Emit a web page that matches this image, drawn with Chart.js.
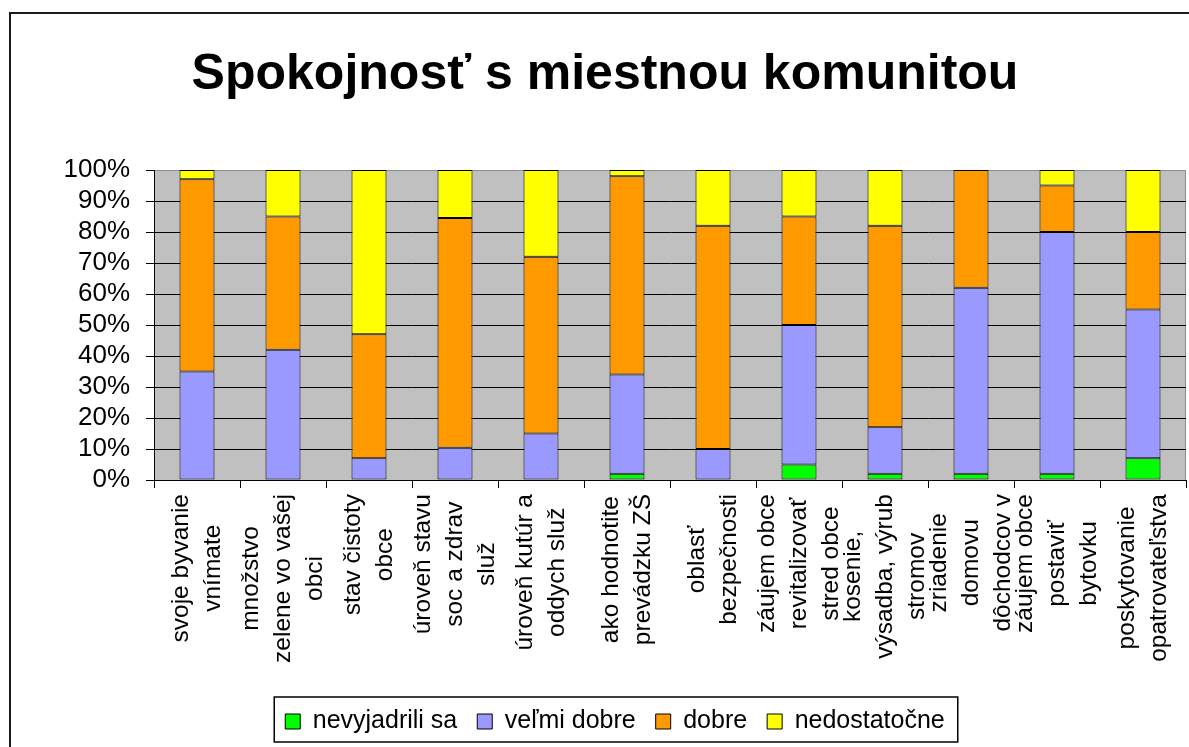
<!DOCTYPE html>
<html>
<head>
<meta charset="utf-8">
<script src="https://cdn.jsdelivr.net/npm/chart.js@4/dist/chart.umd.min.js"></script>
<style>
  html, body { margin: 0; background: #fff; }
  #wrap { width: 1189px; height: 747px; }
</style>
</head>
<body>
<div id="wrap"><canvas id="chart"></canvas></div>
<script>
// category labels, one array of lines per bar
const categories = [
  ["svoje byvanie", "vnímate"],
  ["množstvo", "zelene vo vašej", "obci"],
  ["stav čistoty", "obce"],
  ["úroveň stavu", "soc a zdrav", "služ"],
  ["úroveň kutúr a", "oddych služ"],
  ["ako hodnotite", "prevádzku ZŠ"],
  ["oblasť", "bezpečnosti"],
  ["záujem obce", "revitalizovať", "stred obce"],
  ["kosenie,", "výsadba, výrub", "stromov"],
  ["zriadenie", "domovu", "dôchodcov v"],
  ["záujem obce", "postaviť", "bytovku"],
  ["poskytovanie", "opatrovateľstva"]
];

// shares in percent
const nevyjadrili = [0, 0, 0, 0, 0, 2, 0, 5, 2, 2, 2, 7];
const velmiDobre = [35, 42, 7, 10.4, 15, 32, 10, 45, 15, 60, 78, 48];
const dobre = [62, 43, 40, 74.1, 57, 64, 72, 35, 65, 38, 15, 25];
const nedostatocne = [3, 15, 53, 15.5, 28, 2, 18, 15, 18, 0, 5, 20];

const seriesNames = ["nevyjadrili sa", "veľmi dobre", "dobre", "nedostatočne"];
const seriesColors = ["#00ff00", "#9999ff", "#ff9900", "#ffff00"];
const yTickStep = 10;

const fontFamily = '"Liberation Sans", Arial, sans-serif';
Chart.defaults.font.family = fontFamily;
Chart.defaults.color = "#000";

const frames = {
  id: "frames",
  afterLayout(chart) {
    // the legend sits a little right of centre in the original
    chart.legend.left += 10;
    chart.legend.right += 10;
  },
  beforeDraw(chart) {
    const { ctx, chartArea: a } = chart;
    ctx.save();
    ctx.fillStyle = "#fff";
    ctx.fillRect(0, 0, chart.width, chart.height);
    // outer chart border (right and bottom fall outside the picture)
    ctx.strokeStyle = "#1a1a1a";
    ctx.lineWidth = 2;
    ctx.strokeRect(10, 13, chart.width + 40, chart.height + 40);
    // plot area
    ctx.fillStyle = "#c0c0c0";
    ctx.fillRect(a.left, a.top, a.right - a.left, a.bottom - a.top);
    ctx.strokeStyle = "#8c8c8c";
    ctx.lineWidth = 1;
    ctx.strokeRect(a.left + 0.5, a.top + 0.5, a.right - a.left - 1, a.bottom - a.top);
    ctx.restore();
  },
  afterDraw(chart) {
    const { ctx } = chart;
    const xs = chart.scales.x;

    // rotated, centred multi-line category labels
    ctx.save();
    ctx.font = "24.5px " + fontFamily;
    ctx.fillStyle = "#000";
    ctx.textAlign = "center";
    ctx.textBaseline = "middle";
    categories.forEach((lines, i) => {
      const cx = xs.getPixelForValue(i);
      const longest = Math.max(...lines.map((l) => ctx.measureText(l).width));
      const cy = xs.top + 14 + longest / 2;
      lines.forEach((line, j) => {
        const x = cx + (j - (lines.length - 1) / 2) * 32;
        ctx.save();
        ctx.translate(x, cy);
        ctx.rotate(-Math.PI / 2);
        ctx.fillText(line, 0, 0);
        ctx.restore();
      });
    });
    ctx.restore();

    // legend frame
    const boxes = chart.legend.legendHitBoxes || [];
    if (boxes.length) {
      const left = Math.min(...boxes.map((b) => b.left));
      const right = Math.max(...boxes.map((b) => b.left + b.width));
      const mid = boxes[0].top + boxes[0].height / 2;
      ctx.save();
      ctx.strokeStyle = "#000";
      ctx.lineWidth = 1.5;
      ctx.strokeRect(left - 11, mid - 24.5, right - left + 24, 45);
      ctx.restore();
    }
  }
};

const datasets = [nevyjadrili, velmiDobre, dobre, nedostatocne].map((data, i) => ({
  label: seriesNames[i],
  data: data,
  backgroundColor: seriesColors[i],
  borderColor: "#000",
  borderWidth: 1,
  borderSkipped: false,
  barPercentage: 0.407,
  categoryPercentage: 1
}));

new Chart(document.getElementById("chart"), {
  type: "bar",
  data: { labels: categories, datasets },
  plugins: [frames],
  options: {
    responsive: true,
    maintainAspectRatio: false,
    animation: false,
    layout: { padding: { left: 24, right: 3, top: 0, bottom: 3 } },
    plugins: {
      title: {
        display: true,
        text: "Spokojnosť s miestnou komunitou",
        color: "#000",
        font: { size: 50, weight: "bold" },
        padding: { top: 45, bottom: 65 }
      },
      legend: {
        position: "bottom",
        labels: {
          boxWidth: 15,
          boxHeight: 15,
          padding: 20,
          color: "#000",
          font: { size: 25 }
        }
      },
      tooltip: { enabled: false }
    },
    scales: {
      x: {
        stacked: true,
        grid: { display: true, drawOnChartArea: false, offset: true, tickLength: 8, color: "#000" },
        border: { color: "#000", width: 1 },
        ticks: { display: false },
        afterFit(scale) { scale.height = 209; }
      },
      y: {
        stacked: true,
        min: 0,
        max: 100,
        ticks: {
          stepSize: yTickStep,
          padding: 16,
          color: "#000",
          font: { size: 26, lineHeight: 1 },
          callback: (v) => v + "%"
        },
        grid: {
          tickLength: 8,
          tickColor: "#000",
          color: (c) => (c.tick && c.tick.value === 100 ? "#8c8c8c" : "#000")
        },
        border: { color: "#000", width: 1 },
        afterFit(scale) { scale.width = 130; }
      }
    }
  }
});
</script>
</body>
</html>
